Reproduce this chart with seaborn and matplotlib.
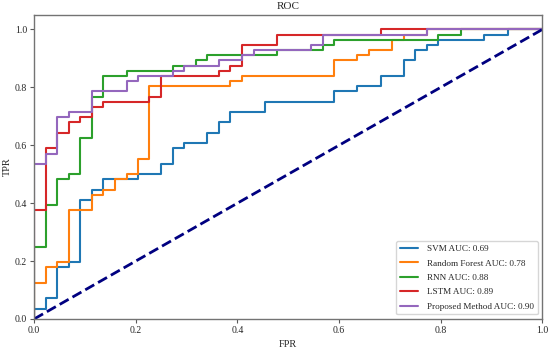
import matplotlib
matplotlib.use('Agg')
import matplotlib.pyplot as plt
import seaborn as sns
import pandas as pd

# step points (fpr, tpr): at each fpr the curve rises to tpr
svm_fpr = [0.0, 0.0, 0.023, 0.045, 0.068, 0.091, 0.114, 0.136, 0.205, 0.25, 0.273, 0.295, 0.341,
           0.364, 0.386, 0.455, 0.591, 0.636, 0.682, 0.727, 0.75, 0.773, 0.795, 0.886, 0.932, 1.0]
svm_tpr = [0.0, 0.036, 0.071, 0.179, 0.196, 0.411, 0.446, 0.482, 0.5, 0.536, 0.589, 0.607, 0.643,
           0.679, 0.714, 0.75, 0.786, 0.804, 0.839, 0.893, 0.929, 0.946, 0.964, 0.982, 1.0, 1.0]

rf_fpr = [0.0, 0.0, 0.023, 0.045, 0.068, 0.114, 0.136, 0.159, 0.182, 0.205, 0.227, 0.386, 0.409,
          0.591, 0.636, 0.659, 0.705, 0.727, 0.773, 1.0]
rf_tpr = [0.0, 0.125, 0.179, 0.196, 0.375, 0.429, 0.446, 0.482, 0.5, 0.554, 0.804, 0.821, 0.839,
          0.893, 0.911, 0.929, 0.964, 0.982, 1.0, 1.0]

rnn_fpr = [0.0, 0.0, 0.023, 0.045, 0.068, 0.091, 0.114, 0.136, 0.182, 0.273, 0.318, 0.341, 0.477,
           0.568, 0.591, 0.795, 0.841, 1.0]
rnn_tpr = [0.0, 0.25, 0.393, 0.482, 0.5, 0.625, 0.768, 0.839, 0.857, 0.875, 0.893, 0.911, 0.929,
           0.946, 0.964, 0.982, 1.0, 1.0]

lstm_fpr = [0.0, 0.0, 0.023, 0.045, 0.068, 0.091, 0.114, 0.136, 0.227, 0.25, 0.364, 0.386, 0.409,
            0.477, 0.682, 1.0]
lstm_tpr = [0.0, 0.375, 0.589, 0.643, 0.679, 0.696, 0.732, 0.75, 0.768, 0.839, 0.857, 0.875, 0.946,
            0.982, 1.0, 1.0]

prop_fpr = [0.0, 0.0, 0.023, 0.045, 0.068, 0.114, 0.182, 0.205, 0.273, 0.295, 0.364, 0.409, 0.432,
            0.545, 0.568, 0.773, 1.0]
prop_tpr = [0.0, 0.536, 0.571, 0.696, 0.714, 0.786, 0.821, 0.839, 0.857, 0.875, 0.893, 0.911, 0.929,
            0.946, 0.982, 1.0, 1.0]

models = ['SVM', 'Random Forest', 'RNN', 'LSTM', 'Proposed Method']
aucs = [0.69, 0.78, 0.88, 0.89, 0.90]
curves = [(svm_fpr, svm_tpr), (rf_fpr, rf_tpr), (rnn_fpr, rnn_tpr),
          (lstm_fpr, lstm_tpr), (prop_fpr, prop_tpr)]

sns.set_style('white')
plt.rcParams['font.family'] = ['Liberation Serif', 'DejaVu Serif']

fig, ax = plt.subplots(figsize=(5.5, 3.49), dpi=100)
fig.subplots_adjust(left=0.062, right=0.986, top=0.957, bottom=0.086)

colors = sns.color_palette('tab10')
for i, (name, auc, (fpr, tpr)) in enumerate(zip(models, aucs, curves)):
    df = pd.DataFrame({'FPR': fpr, 'TPR': tpr})
    sns.lineplot(data=df, x='FPR', y='TPR', sort=False, estimator=None, ax=ax,
                 drawstyle='steps-post', color=colors[i], lw=1.5,
                 label=f'{name} AUC: {auc:.2f}')

ax.plot([0, 1], [0, 1], color='navy', lw=2, linestyle='--')

ax.set_xlim(0.0, 1.0)
ax.set_ylim(0.0, 1.05)
ax.set_xticks([0.0, 0.2, 0.4, 0.6, 0.8, 1.0])
ax.set_yticks([0.0, 0.2, 0.4, 0.6, 0.8, 1.0])
ax.tick_params(axis='both', labelsize=7, length=3, width=0.8, color='0.35',
               bottom=True, left=True, pad=2)
ax.set_xlabel('FPR', fontsize=7.5, labelpad=4)
ax.set_ylabel('TPR', fontsize=7.5, labelpad=2)
ax.set_title('ROC', fontsize=8, pad=4)
for s in ax.spines.values():
    s.set_color('0.45')
    s.set_linewidth(1.0)

leg = ax.legend(loc='lower right', fontsize=6.6, frameon=True, handlelength=2.0,
                handletextpad=1.0, labelspacing=0.65)
leg.get_frame().set_edgecolor('0.8')

plt.savefig('out.png', dpi=100)
plt.close()
